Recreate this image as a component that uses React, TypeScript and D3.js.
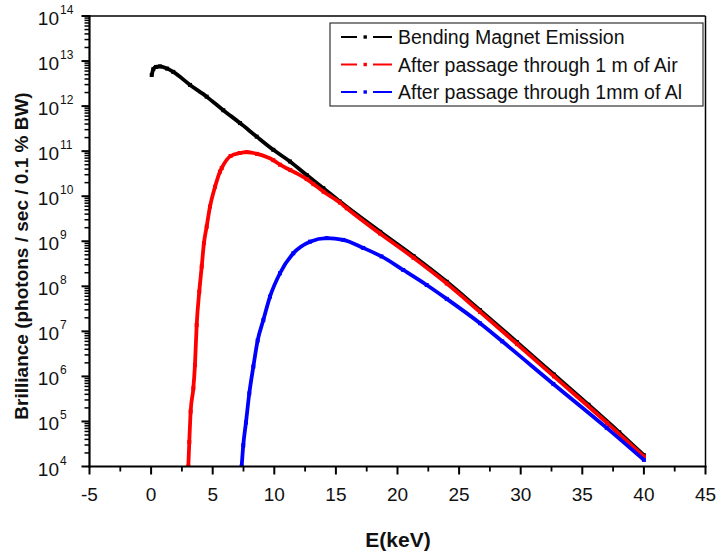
import React from "react";
import * as d3 from "d3";

// ---- data ----
const bendingE = [0.05, 0.18, 0.4, 0.72, 1.3, 1.8, 3.16, 4.51, 5.86, 7.22, 8.57, 9.92, 11.27, 12.63, 13.98, 15.33, 18.6, 21.3, 24.0, 26.7, 29.7, 32.7, 35.5, 38.0, 40.0];
const bendingV = [4.9e12, 6.6e12, 7.4e12, 7.6e12, 6.8e12, 5.75e12, 2.95e12, 1.62e12, 8.1e11, 4.2e11, 2.1e11, 1.07e11, 5.9e10, 2.95e10, 1.51e10, 7.6e9, 1.62e9, 4.7e8, 1.26e8, 2.95e7, 5.75e6, 1.1e6, 2.35e5, 5.75e4, 1.78e4];

const airE = [3.02, 3.10, 3.21, 3.43, 3.56, 3.70, 3.91, 4.11, 4.29, 4.51, 4.78, 5.19, 5.59, 5.73, 6.45, 7.2, 7.76, 8.6, 9.92, 10.46, 11.3, 12.63, 13.17, 14.0, 15.33, 15.88, 18.58, 21.3, 24.0, 26.7, 29.7, 32.7, 37.0, 40.0];
const airV = [1.0e4, 3.5e4, 1.66e5, 5.5e5, 1.78e6, 1.38e7, 7.6e7, 2.75e8, 9.1e8, 2.1e9, 5.9e9, 1.62e10, 3.5e10, 4.2e10, 7.8e10, 9.1e10, 9.5e10, 8.7e10, 6.3e10, 5.0e10, 3.8e10, 2.4e10, 1.86e10, 1.26e10, 7.2e9, 5.4e9, 1.48e9, 4.3e8, 1.15e8, 2.7e7, 5.25e6, 1.0e6, 9.3e4, 1.66e4];

const alE = [7.35, 7.48, 7.70, 7.97, 8.30, 8.65, 9.11, 9.65, 10.46, 11.54, 12.9, 14.25, 15.6, 17.22, 18.7, 20.47, 22.37, 24.0, 26.7, 28.5, 32.65, 36.98, 40.0];
const alV = [1.0e4, 2.95e4, 9.5e4, 4.2e5, 1.66e6, 6.3e6, 1.78e7, 5.9e7, 1.95e8, 5.4e8, 9.8e8, 1.17e9, 1.07e9, 7.1e8, 4.6e8, 2.3e8, 1.07e8, 5.25e7, 1.51e7, 6.0e6, 6.8e5, 7.2e4, 1.4e4];

const seriesNames = ["Bending Magnet Emission", "After passage through 1 m of Air", "After passage through 1mm of Al"];
const seriesColors = ["#000000", "#ff0000", "#0000ff"];

const xTickValues = [-5, 0, 5, 10, 15, 20, 25, 30, 35, 40, 45];
const xTickLabels = ["-5", "0", "5", "10", "15", "20", "25", "30", "35", "40", "45"];
const yDecades = [4, 5, 6, 7, 8, 9, 10, 11, 12, 13, 14];

const xTitle = "E(keV)";
const yTitle = "Brilliance (photons / sec / 0.1 % BW)";

const FONT = "'Liberation Sans', Arial, Helvetica, sans-serif";

export default function App() {
  const W = 718, H = 555;
  const L = 89.5, R = 705.5, T = 16, B = 466.5;
  const x = d3.scaleLinear().domain([-5, 45]).range([L, R]);
  const y = d3.scaleLog().domain([1e4, 1e14]).range([B, T]);

  const line = d3
    .line<[number, number]>()
    .x((d) => x(d[0]))
    .y((d) => y(d[1]))
    .curve(d3.curveMonotoneX);

  const series = [
    d3.zip(bendingE, bendingV) as [number, number][],
    d3.zip(airE, airV) as [number, number][],
    d3.zip(alE, alV) as [number, number][],
  ];

  const minorX = d3.range(-2.5, 45, 5);
  const minorY: number[] = [];
  for (let d = 4; d < 14; d++) for (let k = 2; k <= 9; k++) minorY.push(k * Math.pow(10, d));

  return (
    <svg width={W} height={H} style={{ position: "absolute", left: 0, top: 0, background: "#fff" }} fontFamily={FONT}>
      <defs>
        <clipPath id="plotclip">
          <rect x={L} y={T} width={R - L} height={B - T} />
        </clipPath>
      </defs>
      <rect x={0} y={0} width={W} height={H} fill="#fff" />

      {/* curves */}
      <g clipPath="url(#plotclip)">
        {series.map((s, i) => (
          <g key={i}>
            <path d={line(s) || ""} fill="none" stroke={seriesColors[i]} strokeWidth={3.8} strokeLinejoin="round" />
            {s.map((p, j) => (
              <rect key={j} x={x(p[0]) - 2} y={y(p[1]) - 2} width={4} height={4} fill={seriesColors[i]} />
            ))}
          </g>
        ))}
      </g>

      {/* frame */}
      <line x1={L} x2={R} y1={T} y2={T} stroke="#000" strokeWidth={1.5} />
      <line x1={R} x2={R} y1={T} y2={B} stroke="#000" strokeWidth={1.5} />
      <line x1={L} x2={L} y1={T - 1} y2={B + 1} stroke="#000" strokeWidth={2.2} />
      <line x1={L - 1} x2={R + 1} y1={B} y2={B} stroke="#000" strokeWidth={2.2} />

      {/* x ticks */}
      {xTickValues.map((v, i) => (
        <g key={"xt" + i}>
          <line x1={x(v)} x2={x(v)} y1={B} y2={B + 8} stroke="#000" strokeWidth={2} />
          <text x={x(v)} y={501} textAnchor="middle" fontSize={19} fill="#111">
            {xTickLabels[i]}
          </text>
        </g>
      ))}
      {minorX.map((v, i) => (
        <line key={"xm" + i} x1={x(v)} x2={x(v)} y1={B} y2={B + 5} stroke="#000" strokeWidth={1.8} />
      ))}

      {/* y ticks */}
      {yDecades.map((d) => {
        const yy = y(Math.pow(10, d));
        return (
          <g key={"yt" + d}>
            <line x1={L - 8} x2={L} y1={yy} y2={yy} stroke="#000" strokeWidth={2} />
            <text x={59} y={yy + 9} textAnchor="end" fontSize={19} fill="#111">
              10
            </text>
            <text x={60} y={yy - 2} textAnchor="start" fontSize={12} fill="#111">
              {d}
            </text>
          </g>
        );
      })}
      {minorY.map((v, i) => (
        <line key={"ym" + i} x1={L - 5} x2={L} y1={y(v)} y2={y(v)} stroke="#000" strokeWidth={1.5} />
      ))}

      {/* axis titles */}
      <text x={398} y={547} textAnchor="middle" fontSize={21} fontWeight="bold" fill="#111">
        {xTitle}
      </text>
      <text
        transform={`translate(28, 256) rotate(-90)`}
        textAnchor="middle"
        fontSize={19}
        fontWeight="bold"
        fill="#111"
      >
        {yTitle}
      </text>

      {/* legend */}
      <rect x={330} y={23} width={373} height={83} fill="#fff" stroke="#333" strokeWidth={1.2} />
      {seriesNames.map((name, i) => {
        const ly = 37 + i * 27.5;
        return (
          <g key={"lg" + i}>
            <line x1={341} x2={357} y1={ly} y2={ly} stroke={seriesColors[i]} strokeWidth={2} />
            <rect x={363.5} y={ly - 1.7} width={3.4} height={3.4} fill={seriesColors[i]} />
            <line x1={373} x2={392} y1={ly} y2={ly} stroke={seriesColors[i]} strokeWidth={2} />
            <text x={398} y={ly + 7} fontSize={19.5} fill="#111">
              {name}
            </text>
          </g>
        );
      })}
    </svg>
  );
}
